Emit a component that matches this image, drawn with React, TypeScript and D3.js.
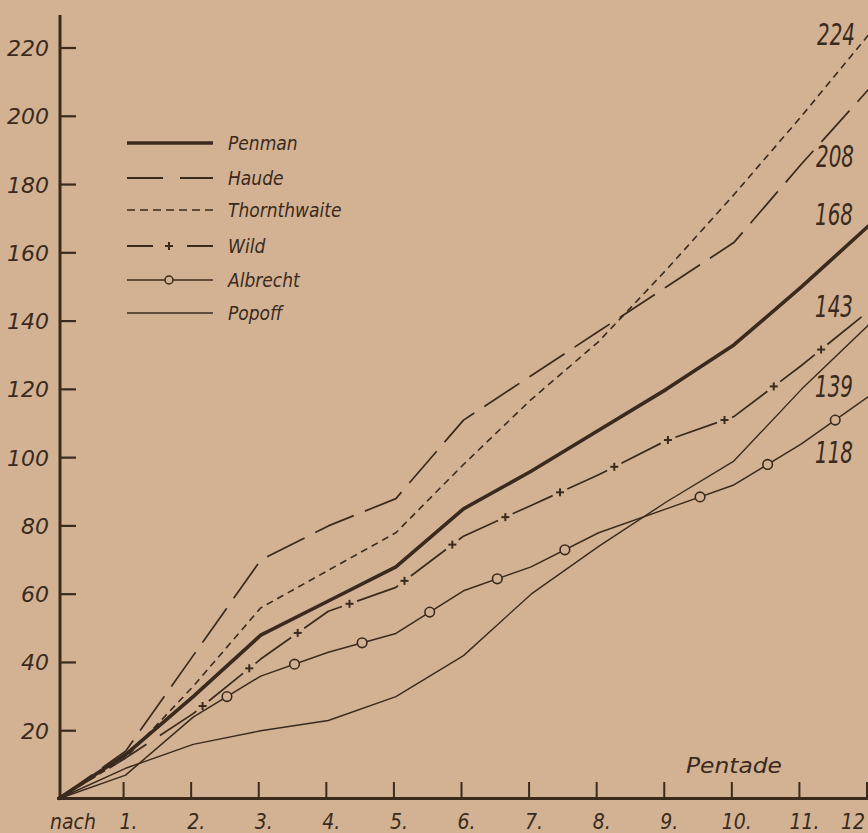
import * as d3 from "d3";
import React from "react";

// cumulative evaporation (mm) after each pentade
const pentades = [0, 1, 2, 3, 4, 5, 6, 7, 8, 9, 10, 11, 12];
const penman = [0, 13, 30, 48, 58, 68, 85, 96, 108, 120, 133, 150, 168];
const haude = [0, 14, 42, 70, 80, 88, 111, 124, 137, 150, 163, 186, 208];
const thornthwaite = [0, 12, 33, 56, 67, 78, 98, 117, 134, 155, 177, 200, 224];
const wild = [0, 12, 25, 41, 55, 62, 77, 86, 95, 105, 112, 127, 143];
const albrecht = [0, 7, 24, 36, 43, 48.5, 61, 68, 78, 85, 92, 104, 118];
const popoff = [0, 9, 16, 20, 23, 30, 42, 60, 74, 87, 99, 120, 139];

const albrechtMarks = [2.5, 3.5, 4.5, 5.5, 6.5, 7.5, 9.5, 10.5, 11.5];
const yTicks = [20, 40, 60, 80, 100, 120, 140, 160, 180, 200, 220];
const xTickLabels = ["nach", "1.", "2.", "3.", "4.", "5.", "6.", "7.", "8.", "9.", "10.", "11.", "12"];
const seriesNames = ["Penman", "Haude", "Thornthwaite", "Wild", "Albrecht", "Popoff"];

const INK = "#3a2a1d";
const PAPER = "#d3b293";
const FONT = "'DejaVu Sans Condensed', 'Liberation Sans Narrow', 'DejaVu Sans', sans-serif";

// points every `step` px along a polyline, starting at `start`
function pointsAlong(pts, start, step) {
  const out = [];
  let acc = 0;
  let next = start;
  for (let i = 1; i < pts.length; i++) {
    const [x0, y0] = pts[i - 1];
    const [x1, y1] = pts[i];
    const len = Math.hypot(x1 - x0, y1 - y0);
    while (next <= acc + len) {
      const t = (next - acc) / len;
      out.push([x0 + (x1 - x0) * t, y0 + (y1 - y0) * t]);
      next += step;
    }
    acc += len;
  }
  return out;
}

export default function App() {
  const width = 868, height = 833;
  const x = d3.scaleLinear().domain([0, 12]).range([58, 869]);
  const y = d3.scaleLinear().domain([0, 220]).range([799, 48]);

  const line = d3.line<number>()
    .x((d, i) => x(pentades[i]))
    .y(d => y(d));

  const styles = {
    Penman: { w: 3.6, dash: null },
    Haude: { w: 1.7, dash: "42 12" },
    Thornthwaite: { w: 1.6, dash: "7 5" },
    Wild: { w: 1.7, dash: "44 16" },
    Albrecht: { w: 1.5, dash: null },
    Popoff: { w: 1.4, dash: null },
  };
  const data = {
    Penman: penman, Haude: haude, Thornthwaite: thornthwaite,
    Wild: wild, Albrecht: albrecht, Popoff: popoff,
  };

  const wildPx = wild.map((v, i) => [x(pentades[i]), y(v)]);
  const wildPlus = pointsAlong(wildPx, 52, 60).filter(p => p[0] > 180 && p[0] < 866);

  const albrechtAt = p => {
    const i = Math.floor(p);
    return d3.interpolateNumber(albrecht[i], albrecht[i + 1])(p - i);
  };

  const plus = (cx, cy, k, s = 4.5) => (
    <g key={k} stroke={INK} strokeWidth={2}>
      <line x1={cx - s} x2={cx + s} y1={cy} y2={cy} />
      <line x1={cx} x2={cx} y1={cy - s} y2={cy + s} />
    </g>
  );

  // end-of-line value labels (text from the last value of each series)
  const endLabels = [
    { v: thornthwaite[12], cx: 836, cy: 33 },
    { v: haude[12], cx: 835, cy: 155 },
    { v: penman[12], cx: 834, cy: 213 },
    { v: wild[12], cx: 834, cy: 305 },
    { v: popoff[12], cx: 834, cy: 385 },
    { v: albrecht[12], cx: 834, cy: 451 },
  ];

  const legendY = [143, 178, 210, 246, 280, 313];

  return (
    <svg width={width} height={height} style={{ position: "absolute", left: 0, top: 0, background: PAPER }}
      fontFamily={FONT} fontStyle="italic">
      <rect width={width} height={height} fill={PAPER} />

      {/* axes */}
      <line x1={60} x2={60} y1={15} y2={800} stroke={INK} strokeWidth={3} />
      <line x1={57} x2={868} y1={798.5} y2={798.5} stroke={INK} strokeWidth={3} />
      {yTicks.map(t => (
        <g key={t}>
          <line x1={60} x2={76} y1={y(t)} y2={y(t)} stroke={INK} strokeWidth={2.2} />
          <text x={49} y={y(t) + 8} textAnchor="end" fontSize={22} fill={INK}
            textLength={String(t).length * 14} lengthAdjust="spacingAndGlyphs">{t}</text>
        </g>
      ))}
      {pentades.slice(1).map(p => (
        <line key={p} x1={x(p) - 2} x2={x(p) - 2} y1={782} y2={798} stroke={INK} strokeWidth={2} />
      ))}
      {xTickLabels.map((l, i) => (
        <text key={l} x={i === 0 ? 73 : i === 12 ? 853 : x(pentades[i]) + 3} y={829} textAnchor="middle"
          fontSize={21} fill={INK}>{l}</text>
      ))}
      <text x={734} y={773} textAnchor="middle" fontSize={22} fill={INK}
        textLength={96} lengthAdjust="spacingAndGlyphs">Pentade</text>

      {/* series */}
      {seriesNames.map(n => (
        <path key={n} d={line(data[n])} fill="none" stroke={INK}
          strokeWidth={styles[n].w} strokeDasharray={styles[n].dash || undefined}
          strokeLinejoin="round" />
      ))}
      {wildPlus.map((p, i) => plus(p[0], p[1], "w" + i, 4))}
      {albrechtMarks.map(p => (
        <circle key={p} cx={x(p)} cy={y(albrechtAt(p))} r={4.8} fill={PAPER} stroke={INK} strokeWidth={1.6} />
      ))}

      {/* end labels */}
      {endLabels.map(l => (
        <text key={l.v} x={l.cx} y={l.cy + 12} textAnchor="middle" fontSize={30} fill={INK}
          textLength={38} lengthAdjust="spacingAndGlyphs">{l.v}</text>
      ))}

      {/* legend */}
      {seriesNames.map((n, i) => {
        const ly = legendY[i];
        let sample;
        if (n === "Haude") {
          sample = <path d={`M127,${ly}H163M180,${ly}H213`} stroke={INK} strokeWidth={1.8} />;
        } else if (n === "Thornthwaite") {
          sample = <line x1={127} x2={213} y1={ly} y2={ly} stroke={INK} strokeWidth={1.7} strokeDasharray="8 5" />;
        } else if (n === "Wild") {
          sample = <g><path d={`M127,${ly}H153M187,${ly}H213`} stroke={INK} strokeWidth={1.8} />{plus(169, ly, "lp", 4)}</g>;
        } else if (n === "Albrecht") {
          sample = <g><line x1={127} x2={213} y1={ly} y2={ly} stroke={INK} strokeWidth={1.6} />
            <circle cx={169} cy={ly} r={4} fill={PAPER} stroke={INK} strokeWidth={1.5} /></g>;
        } else {
          sample = <line x1={127} x2={213} y1={ly} y2={ly} stroke={INK} strokeWidth={n === "Penman" ? 3.6 : 1.6} />;
        }
        return (
          <g key={n}>
            {sample}
            <text x={228} y={ly + 7} fontSize={19} fill={INK}>{n}</text>
          </g>
        );
      })}
    </svg>
  );
}
